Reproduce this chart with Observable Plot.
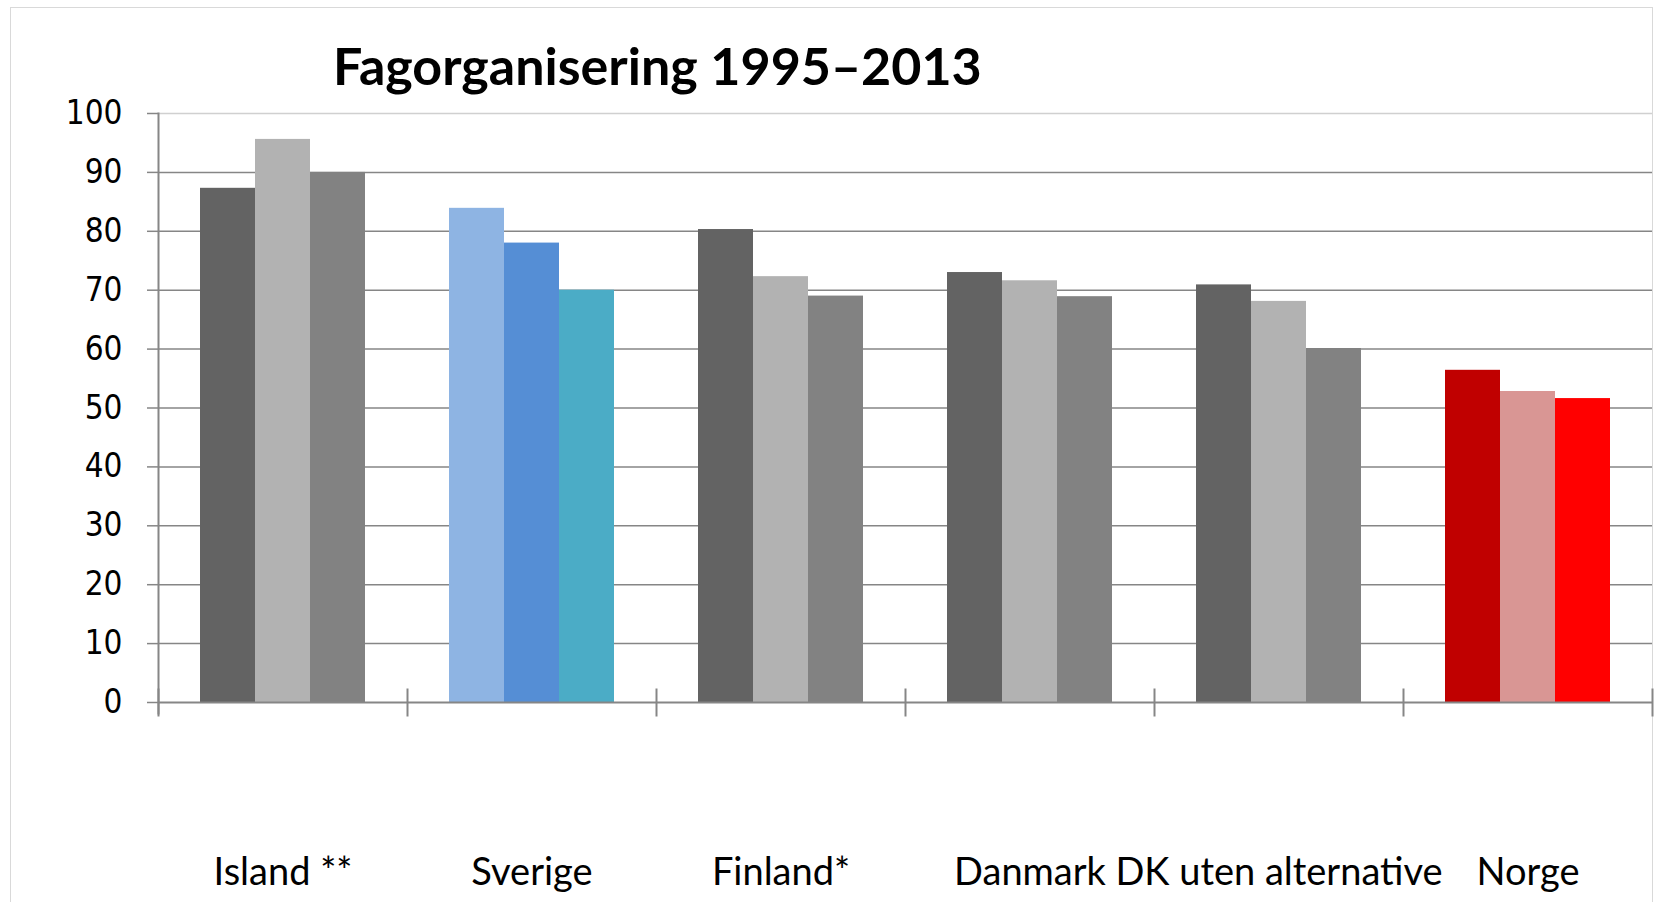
<!DOCTYPE html>
<html>
<head>
<meta charset="utf-8">
<script src="https://cdn.jsdelivr.net/npm/d3@7"></script>
<script src="https://cdn.jsdelivr.net/npm/@observablehq/plot@0.6"></script>
<style>
  body { margin: 0; background: #fff; }
  #wrap { position: relative; width: 1670px; height: 902px; overflow: hidden; }
  #border { position: absolute; left: 10px; top: 7px; width: 1641px; height: 930px; border: 1.5px solid #d9d9d9; }
  #chart { position: absolute; left: 0; top: 0; }
  #title { position: absolute; left: 333px; top: 39px; font: bold 52px Lato, sans-serif; line-height: 52px; white-space: nowrap; color: #000; }
</style>
</head>
<body>
<div id="wrap">
  <div id="border"></div>
  <div id="chart"></div>
  <div id="title">Fagorganisering 1995–2013</div>
</div>
<script>
// ---- data ----
const countries = ["Island **", "Sverige", "Finland*", "Danmark", "DK uten alternative", "Norge"];
const series = ["1995", "2004", "2013"];
const values1995 = [87.3, 83.9, 80.3, 73.0, 70.9, 56.4];
const values2004 = [95.6, 78.0, 72.3, 71.6, 68.1, 52.8];
const values2013 = [90.0, 70.0, 69.0, 68.9, 60.1, 51.6];
const yTicks = [0, 10, 20, 30, 40, 50, 60, 70, 80, 90, 100];

// ---- styles ----
const greyColors = ["#636363", "#b2b2b2", "#828282"];
const sverigeColors = ["#8EB4E3", "#558ED5", "#4BACC6"];
const norgeColors = ["#C00000", "#D99694", "#FF0000"];
const paletteFor = c => c === "Sverige" ? sverigeColors : c === "Norge" ? norgeColors : greyColors;

const seriesValues = [values1995, values2004, values2013];
const data = [];
countries.forEach((c, i) => {
  series.forEach((s, j) => {
    data.push({country: c, series: s, value: seriesValues[j][i], color: paletteFor(c)[j]});
  });
});

const W = 1670, H = 902, mT = 113, mB = 200, mL = 158, mR = 18;
const plotH = H - mT - mB;
const axisGrey = "#868686";

const chart = Plot.plot({
  width: W,
  height: H,
  marginTop: mT,
  marginBottom: mB,
  marginLeft: mL,
  marginRight: mR,
  style: {background: "transparent", overflow: "visible"},
  fx: {domain: countries, padding: 0, label: null},
  x: {domain: series, paddingInner: 0, paddingOuter: 0.75, axis: null},
  y: {domain: [0, 100], label: null},
  color: {type: "identity"},
  marks: [
    Plot.gridY(yTicks.filter(t => t > 0 && t < 100), {stroke: axisGrey, strokeOpacity: 1, strokeWidth: 1.5}),
    Plot.gridY([100], {stroke: "#d0d0d0", strokeOpacity: 1, strokeWidth: 1.5}),
    Plot.barY(data, {fx: "country", x: "series", y: "value", fill: "color"}),
    Plot.ruleY([0], {stroke: axisGrey, strokeWidth: 2}),
    Plot.frame({anchor: "left", insetTop: plotH - 13, insetBottom: -13, stroke: axisGrey, strokeWidth: 2}),
    Plot.frame({anchor: "right", facetAnchor: "right", insetTop: plotH - 13, insetBottom: -13, stroke: axisGrey, strokeWidth: 2}),
    Plot.frame({anchor: "left", facetAnchor: "left", insetBottom: -11, stroke: axisGrey, strokeWidth: 2}),
    Plot.axisY({
      ticks: yTicks, anchor: "left", tickSize: 11, tickPadding: 25,
      stroke: axisGrey, strokeWidth: 1.5, fill: "#000",
      fontSize: 33, fontFamily: "'DejaVu Sans Condensed', 'DejaVu Sans', sans-serif",
      label: null
    }),
    Plot.axisFx({
      anchor: "bottom", tickSize: 0, tickPadding: 156,
      fill: "#000", fontSize: 38, fontFamily: "Lato, sans-serif", label: null
    })
  ]
});
document.getElementById("chart").appendChild(chart);
</script>
</body>
</html>
